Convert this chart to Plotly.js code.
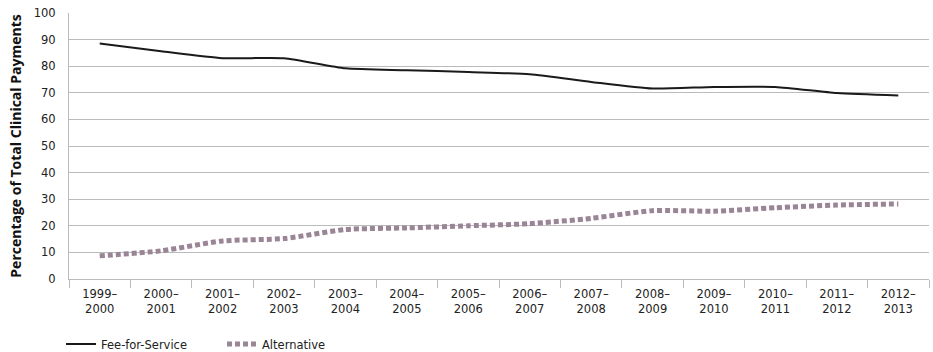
<!DOCTYPE html>
<html><head><meta charset="utf-8">
<script src="https://cdn.plot.ly/plotly-3.0.1.min.js"></script>
<style>html,body{margin:0;padding:0;background:#fff}#c{width:933px;height:352px}</style>
</head><body><div id="c"></div>
<script>
const categories = ["1999–<br>2000","2000–<br>2001","2001–<br>2002","2002–<br>2003","2003–<br>2004","2004–<br>2005","2005–<br>2006","2006–<br>2007","2007–<br>2008","2008–<br>2009","2009–<br>2010","2010–<br>2011","2011–<br>2012","2012–<br>2013"];
const feeForService = [88.5, 85.6, 83.0, 83.0, 79.2, 78.5, 77.8, 77.0, 74.1, 71.6, 72.2, 72.2, 69.9, 69.0];
const alternative = [8.7, 10.6, 14.3, 15.2, 18.6, 19.2, 20.0, 20.8, 22.8, 25.7, 25.5, 26.8, 27.8, 28.2];
const yTicks = [0,10,20,30,40,50,60,70,80,90,100];

const font = "'DejaVu Sans', sans-serif";
const titleFont = "'Open Sans', 'DejaVu Sans', sans-serif";
const traces = [
  {x: categories, y: feeForService, type: 'scatter', mode: 'lines', name: 'Fee-for-Service',
   line: {color: '#1a1a1a', width: 2, shape: 'spline', smoothing: 0.6}},
  {x: categories, y: alternative, type: 'scatter', mode: 'lines', name: 'Alternative',
   line: {color: '#9a8597', width: 5, dash: '5px,3px', shape: 'spline', smoothing: 0.6}}
];
const layout = {
  width: 933, height: 352,
  margin: {l: 69, r: 4, t: 13, b: 73, autoexpand: false},
  paper_bgcolor: '#fff', plot_bgcolor: '#fff',
  font: {family: font, size: 12, color: '#222'},
  showlegend: true,
  legend: {orientation: 'h', xref: 'container', yref: 'container', x: 61/933, xanchor: 'left',
           y: 8/352, yanchor: 'middle', entrywidth: 116, entrywidthmode: 'pixels',
           font: {family: font, size: 11.5, color: '#222'}, tracegroupgap: 0},
  xaxis: {type: 'category', tickson: 'boundaries', ticks: 'outside', ticklen: 8, tickcolor: '#bbb',
          showgrid: false, showline: true, linecolor: '#bbb', linewidth: 1, automargin: false,
          ticklabelstandoff: 4,
          tickfont: {family: font, size: 11.5, color: '#222'}, range: [-0.5, 13.5]},
  yaxis: {range: [0, 100], tickvals: yTicks, ticktext: yTicks.map(String), showgrid: true, gridcolor: '#bbb',
          gridwidth: 1, zeroline: false, showline: true, linecolor: '#bbb', ticks: '', ticklabelstandoff: 10,
          automargin: false,
          tickfont: {family: font, size: 11.5, color: '#222'},
          title: {text: 'Percentage of Total Clinical Payments', font: {family: titleFont, size: 14, color: '#111', weight: 'bold'}, standoff: 8}}
};
Plotly.newPlot('c', traces, layout, {displayModeBar: false, staticPlot: true});
</script></body></html>
